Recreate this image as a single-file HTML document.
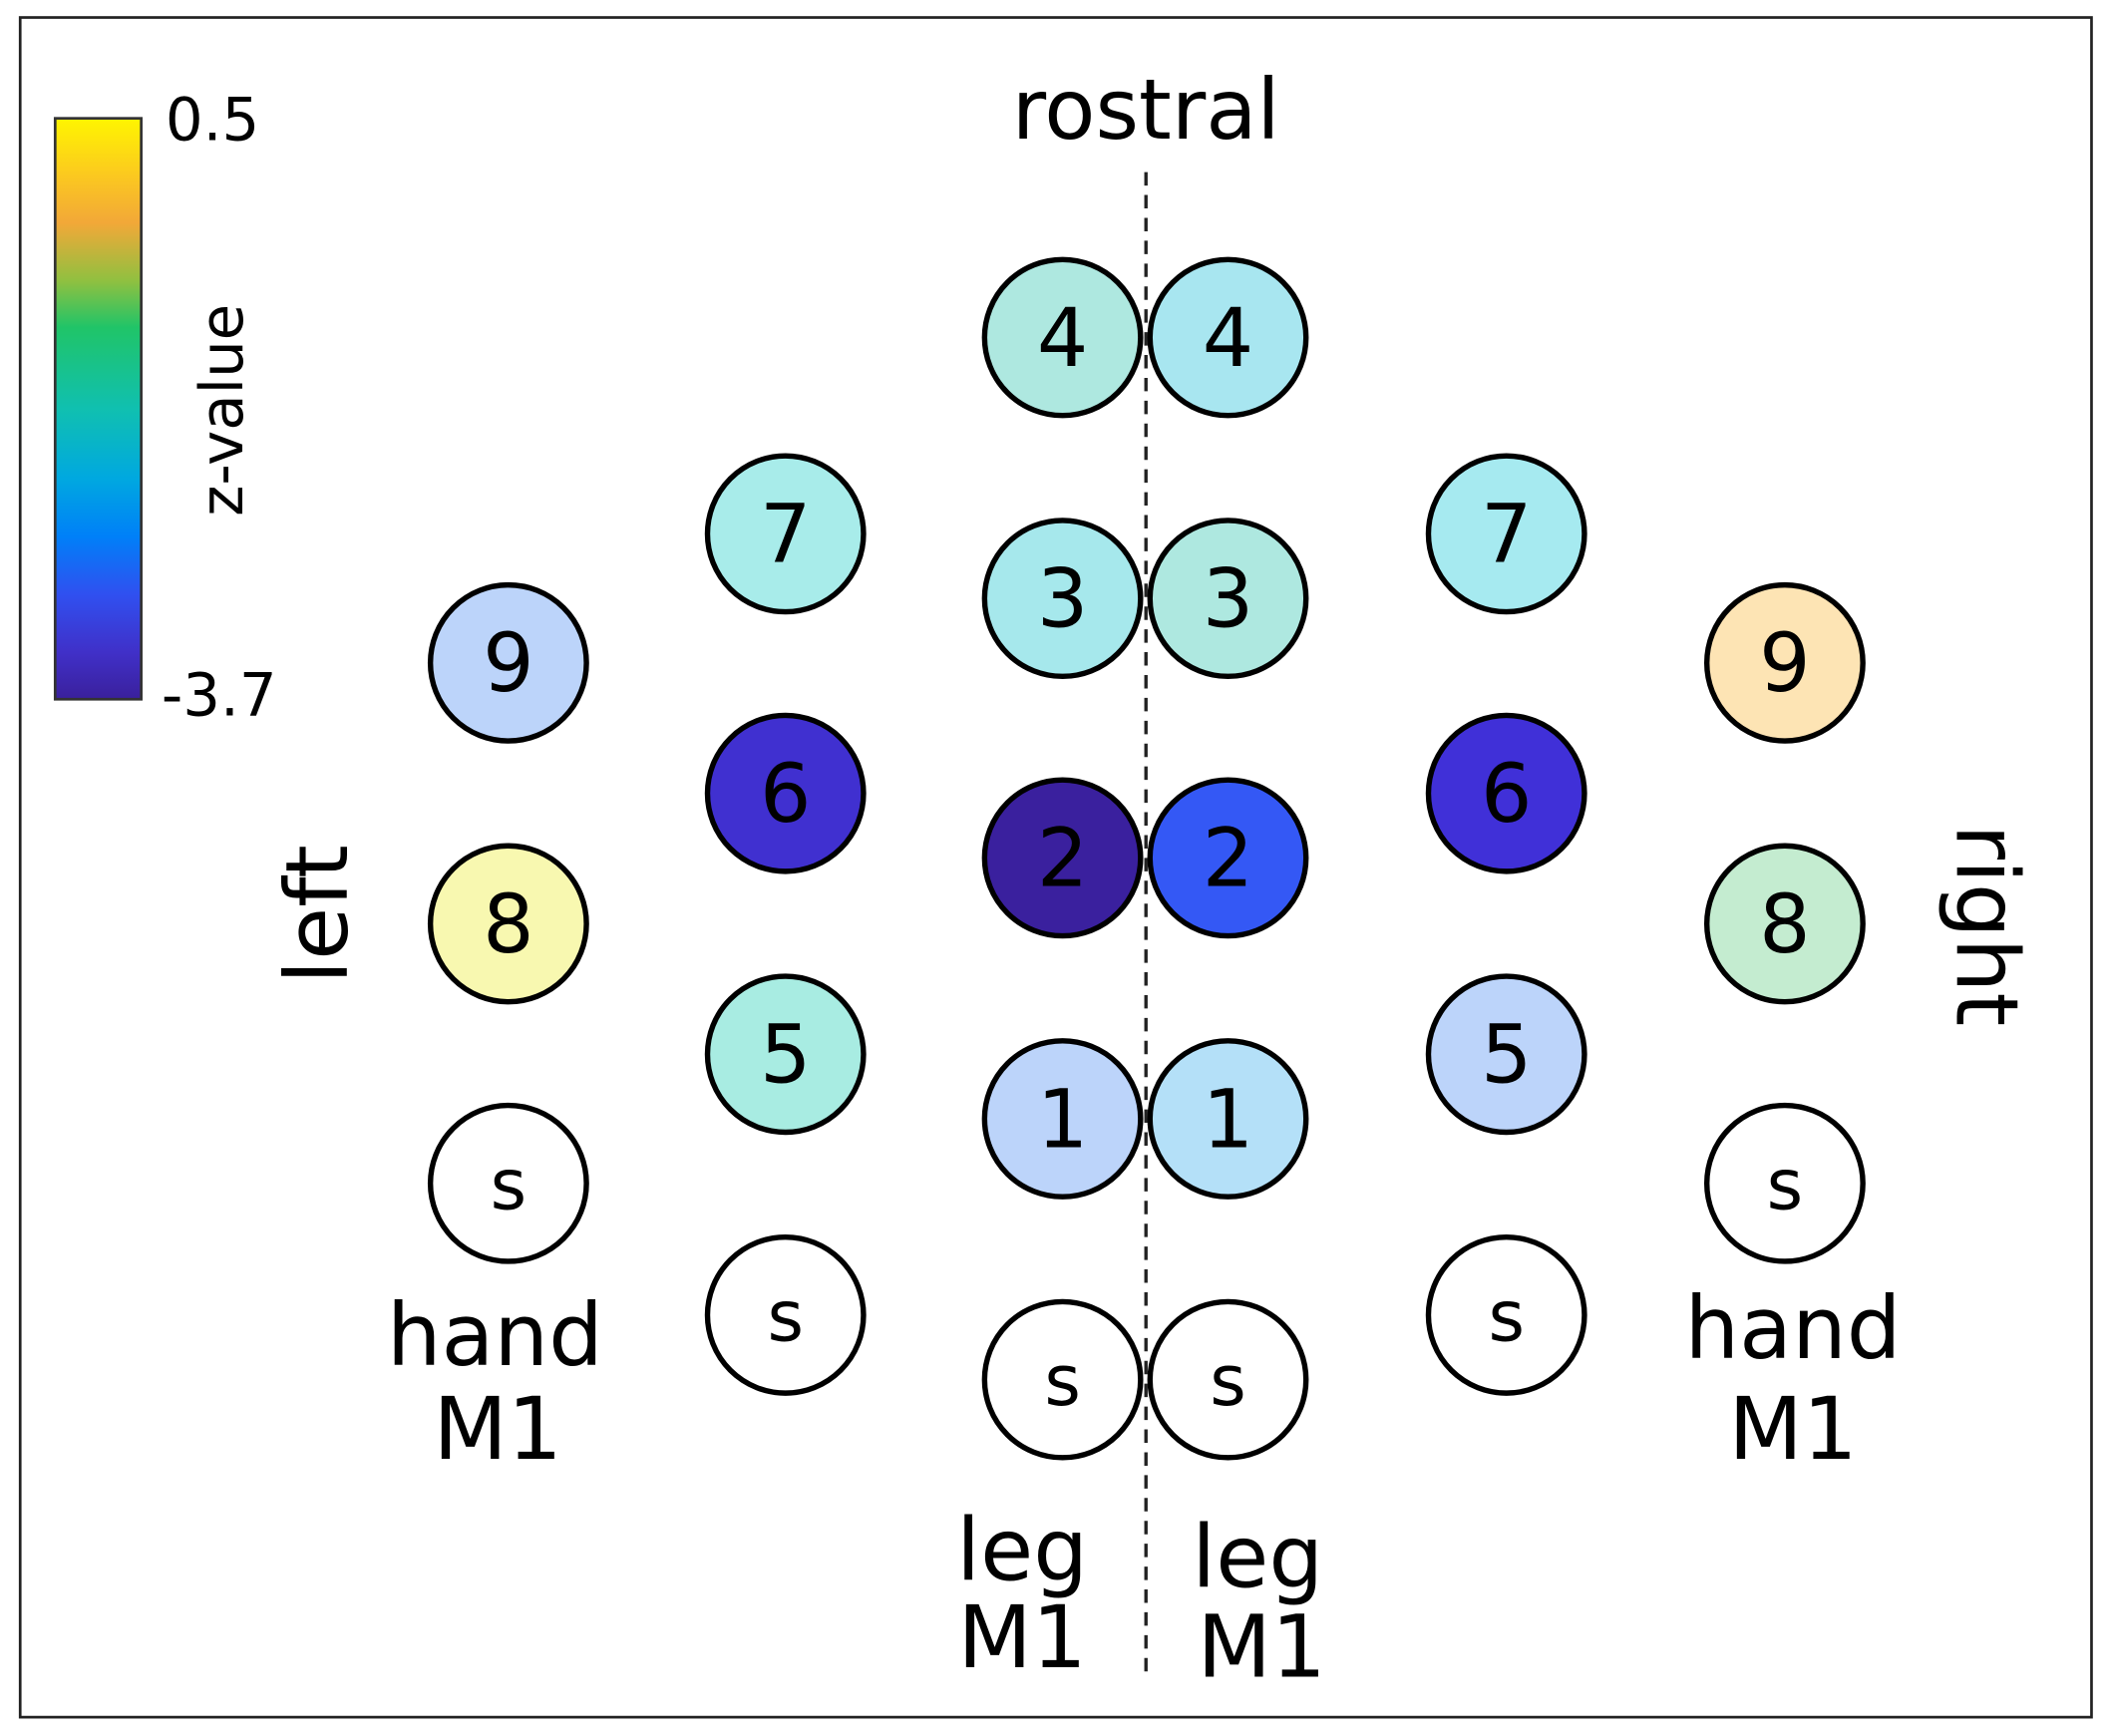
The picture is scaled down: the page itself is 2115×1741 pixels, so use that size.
<!DOCTYPE html>
<html><head><meta charset="utf-8"><style>
html,body{margin:0;padding:0;background:#fff;}
svg{display:block;}
text{font-family:"DejaVu Sans","Liberation Sans",sans-serif;fill:#000;}
</style></head><body>
<svg width="2115" height="1741" viewBox="0 0 1568 1291" preserveAspectRatio="none" xmlns="http://www.w3.org/2000/svg">
<defs>
<linearGradient id="cb" x1="0" y1="0" x2="0" y2="1">
<stop offset="0" stop-color="#fff500"/>
<stop offset="0.1" stop-color="#fbc820"/>
<stop offset="0.18" stop-color="#f2a838"/>
<stop offset="0.28" stop-color="#90c040"/>
<stop offset="0.36" stop-color="#20c468"/>
<stop offset="0.5" stop-color="#10c0b0"/>
<stop offset="0.62" stop-color="#00a8e0"/>
<stop offset="0.72" stop-color="#0080f8"/>
<stop offset="0.82" stop-color="#3050f0"/>
<stop offset="0.92" stop-color="#4030c8"/>
<stop offset="1" stop-color="#3a209c"/>
</linearGradient>
</defs>
<rect x="15" y="13" width="1540" height="1264" fill="#fff" stroke="#222" stroke-width="2"/>
<rect x="41" y="88" width="64" height="432" fill="url(#cb)" stroke="#333" stroke-width="2"/>
<text x="123" y="104" font-size="44">0.5</text>
<text x="120" y="532" font-size="44">-3.7</text>
<text transform="translate(180,305) rotate(-90)" font-size="44" text-anchor="middle">z-value</text>
<text x="852" y="103" font-size="62" text-anchor="middle">rostral</text>
<line x1="852" y1="128" x2="852" y2="1248" stroke="#222" stroke-width="2.5" stroke-dasharray="10,7"/>
<g stroke="#000" stroke-width="4">
<circle cx="790" cy="251" r="58" fill="#aee8e0"/>
<circle cx="913" cy="251" r="58" fill="#a8e6f0"/>
<circle cx="790" cy="445" r="58" fill="#a6e8ec"/>
<circle cx="913" cy="445" r="58" fill="#aee8e0"/>
<circle cx="790" cy="638" r="58" fill="#3a209e"/>
<circle cx="913" cy="638" r="58" fill="#3458f5"/>
<circle cx="790" cy="832" r="58" fill="#bcd4fa"/>
<circle cx="913" cy="832" r="58" fill="#b4e0f8"/>
<circle cx="790" cy="1026" r="58" fill="#fff"/>
<circle cx="913" cy="1026" r="58" fill="#fff"/>
<circle cx="584" cy="397" r="58" fill="#a8ecea"/>
<circle cx="584" cy="590" r="58" fill="#4030d0"/>
<circle cx="584" cy="784" r="58" fill="#a8ece2"/>
<circle cx="584" cy="978" r="58" fill="#fff"/>
<circle cx="378" cy="493" r="58" fill="#bcd4fa"/>
<circle cx="378" cy="687" r="58" fill="#f8f8b0"/>
<circle cx="378" cy="880" r="58" fill="#fff"/>
<circle cx="1120" cy="397" r="58" fill="#a6eaf0"/>
<circle cx="1120" cy="590" r="58" fill="#4030d8"/>
<circle cx="1120" cy="784" r="58" fill="#bcd4fa"/>
<circle cx="1120" cy="978" r="58" fill="#fff"/>
<circle cx="1327" cy="493" r="58" fill="#fde4b4"/>
<circle cx="1327" cy="687" r="58" fill="#c4ecd0"/>
<circle cx="1327" cy="880" r="58" fill="#fff"/>
</g>
<g font-size="60" text-anchor="middle">
<text x="790" y="272">4</text><text x="913" y="272">4</text>
<text x="790" y="466">3</text><text x="913" y="466">3</text>
<text x="790" y="659">2</text><text x="913" y="659">2</text>
<text x="790" y="853">1</text><text x="913" y="853">1</text>
<text x="584" y="418">7</text><text x="584" y="611">6</text><text x="584" y="805">5</text>
<text x="378" y="514">9</text><text x="378" y="708">8</text>
<text x="1120" y="418">7</text><text x="1120" y="611">6</text><text x="1120" y="805">5</text>
<text x="1327" y="514">9</text><text x="1327" y="708">8</text>
</g>
<g font-size="52" text-anchor="middle">
<text x="790" y="1045">s</text><text x="913" y="1045">s</text>
<text x="584" y="997">s</text><text x="378" y="899">s</text>
<text x="1120" y="997">s</text><text x="1327" y="899">s</text>
</g>
<g font-size="64" text-anchor="middle">
<text x="368" y="1015">hand</text><text x="370" y="1085">M1</text>
<text x="1333" y="1010">hand</text><text x="1333" y="1085">M1</text>
<text x="760" y="1175">leg</text><text x="760" y="1240">M1</text>
<text x="935" y="1180">leg</text><text x="938" y="1247">M1</text>
</g>
<text transform="translate(258,680) rotate(-90)" font-size="64" text-anchor="middle">left</text>
<text transform="translate(1455,688) rotate(90)" font-size="64" text-anchor="middle">right</text>
</svg>
</body></html>
